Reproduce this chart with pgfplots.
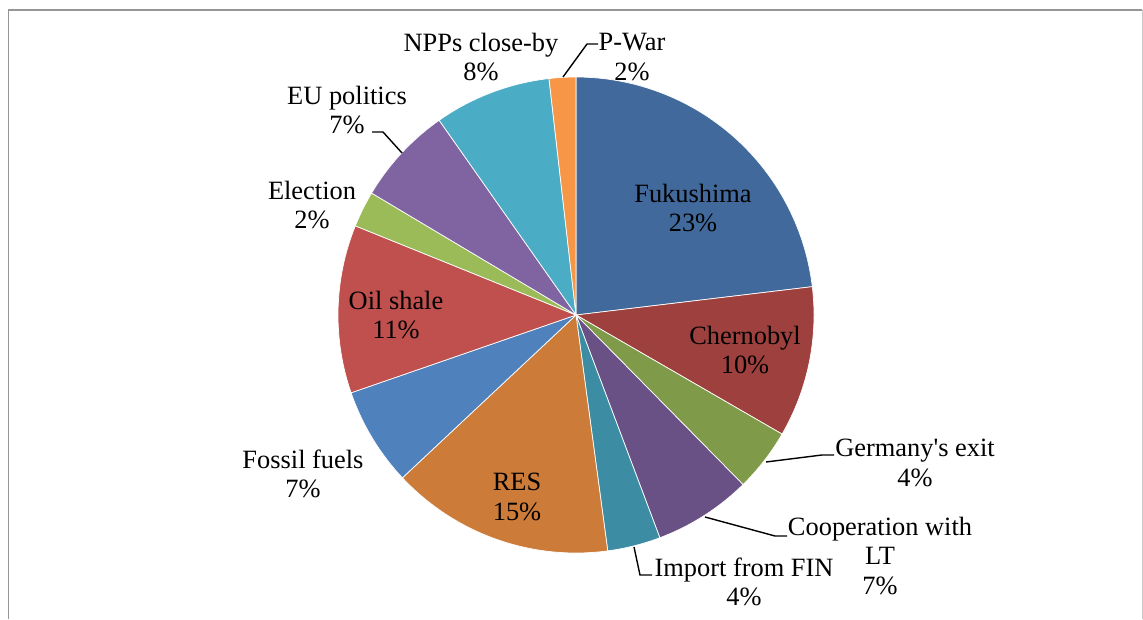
\documentclass[border=0pt]{standalone}
\usepackage{pgfplots}
\pgfplotsset{compat=1.18}
\usepackage{pgfplotstable}
\usepackage{fontspec}
\setmainfont{Liberation Serif}

\definecolor{c0}{HTML}{41699B}
\definecolor{c1}{HTML}{9E413E}
\definecolor{c2}{HTML}{7F9A48}
\definecolor{c3}{HTML}{695185}
\definecolor{c4}{HTML}{3C8DA3}
\definecolor{c5}{HTML}{CC7B38}
\definecolor{c6}{HTML}{4F81BD}
\definecolor{c7}{HTML}{C0504D}
\definecolor{c8}{HTML}{9BBB59}
\definecolor{c9}{HTML}{8064A2}
\definecolor{c10}{HTML}{4BACC6}
\definecolor{c11}{HTML}{F79646}

% shares (percent), clockwise from 12 o'clock:
% Fukushima, Chernobyl, Germany's exit, Cooperation with LT, Import from FIN,
% RES, Fossil fuels, Oil shale, Election, EU politics, NPPs close-by, P-War
\pgfplotstableread{
pct
23.10
10.24
4.28
6.65
3.60
15.14
6.69
11.41
2.45
6.69
7.94
1.81
}\piedata

\tikzset{lbl/.style={font=\fontsize{13.2}{14.8}\selectfont, align=center, inner sep=0pt}}

\begin{document}
\begin{tikzpicture}
\begin{axis}[
  width=571.5pt, height=309.5pt, scale only axis,
  xmin=0, xmax=1143, ymin=0, ymax=619,
  hide axis, clip=false,
]
\xdef\curang{90}
\pgfplotsforeachungrouped \i in {0,...,11}{%
  \pgfplotstablegetelem{\i}{pct}\of\piedata
  \pgfmathsetmacro\endang{\curang-3.6*\pgfplotsretval}%
  \edef\temp{\noexpand\addplot[fill=c\i, draw=white, line width=0.35pt, domain=\endang:\curang, samples=90]
    ({576+238*cos(x)},{304+238*sin(x)}) -- (axis cs:576,304) -- cycle;}%
  \temp
  \xdef\curang{\endang}%
}

% frame
\draw[color={rgb,255:red,150;green,150;blue,150}, line width=0.85pt] (axis cs:8.5,0) -- (axis cs:8.5,609) -- (axis cs:1142,609);
\draw[color={rgb,255:red,200;green,200;blue,200}, line width=0.5pt] (axis cs:1142,609) -- (axis cs:1142,0);
\path (axis cs:0,0) rectangle (axis cs:1143,619);

% labels
\node[lbl] at (axis cs:693,411) {Fukushima\\23\%};
\node[lbl] at (axis cs:745,269) {Chernobyl\\10\%};
\node[lbl] at (axis cs:517,122) {RES\\15\%};
\node[lbl] at (axis cs:396,304) {Oil shale\\11\%};
\node[lbl] at (axis cs:303,145) {Fossil fuels\\7\%};
\node[lbl] at (axis cs:312,414) {Election\\2\%};
\node[lbl] at (axis cs:347,509) {EU politics\\7\%};
\node[lbl] at (axis cs:481,562) {NPPs close-by\\8\%};
\node[lbl] at (axis cs:632,562) {P-War\\2\%};
\node[lbl] at (axis cs:915,156) {Germany\textquotesingle s exit\\4\%};
\node[lbl] at (axis cs:744,37) {Import from FIN\\4\%};
\node[lbl] at (axis cs:880,63) {Cooperation with\\LT\\7\%};

% leader lines
\draw[line width=0.7pt] (axis cs:563,542) -- (axis cs:587,575) -- (axis cs:598,575);
\draw[line width=0.7pt] (axis cs:402,466) -- (axis cs:383,487) -- (axis cs:372,487);
\draw[line width=0.7pt] (axis cs:766,157) -- (axis cs:822,164) -- (axis cs:834,164);
\draw[line width=0.7pt] (axis cs:705,102) -- (axis cs:775,83) -- (axis cs:787,83);
\draw[line width=0.7pt] (axis cs:634,72) -- (axis cs:640,44) -- (axis cs:652,44);
\end{axis}
\end{tikzpicture}
\end{document}
